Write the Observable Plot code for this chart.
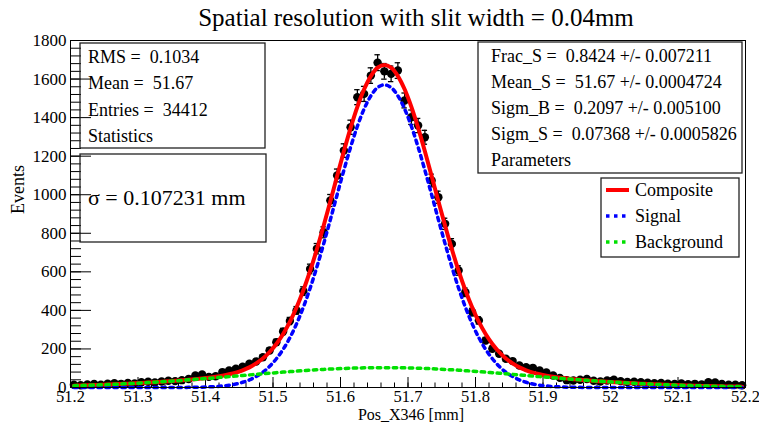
<!DOCTYPE html>
<html><head><meta charset="utf-8">
<script src="https://cdn.jsdelivr.net/npm/d3@7"></script>
<script src="https://cdn.jsdelivr.net/npm/@observablehq/plot@0.6"></script>
<style>body{margin:0;background:#fff;} svg{display:block}</style>
</head><body><div id="chart"></div>
<script>
const binCenters = [
51.205,51.215,51.225,51.235,51.245,51.255,51.265,51.275,51.285,51.295,
51.305,51.315,51.325,51.335,51.345,51.355,51.365,51.375,51.385,51.395,
51.405,51.415,51.425,51.435,51.445,51.455,51.465,51.475,51.485,51.495,
51.505,51.515,51.525,51.535,51.545,51.555,51.565,51.575,51.585,51.595,
51.605,51.615,51.625,51.635,51.645,51.655,51.665,51.675,51.685,51.695,
51.705,51.715,51.725,51.735,51.745,51.755,51.765,51.775,51.785,51.795,
51.805,51.815,51.825,51.835,51.845,51.855,51.865,51.875,51.885,51.895,
51.905,51.915,51.925,51.935,51.945,51.955,51.965,51.975,51.985,51.995,
52.005,52.015,52.025,52.035,52.045,52.055,52.065,52.075,52.085,52.095,
52.105,52.115,52.125,52.135,52.145,52.155,52.165,52.175,52.185,52.195];
const counts = [
14,12,16,18,15,20,22,19,24,21,
27,30,26,31,35,33,38,44,62,68,
55,58,80,88,97,108,123,135,157,192,
235,290,345,400,500,615,720,805,970,1100,
1229,1350,1506,1523,1618,1685,1640,1627,1644,1489,
1402,1359,1298,1074,987,849,745,607,494,391,
348,244,201,175,149,137,114,105,102,88,
78,62,50,38,36,40,44,35,31,36,
40,33,29,30,27,25,22,24,20,18,
21,17,19,16,28,26,18,14,15,12];
const signalCurve = [
0,0,0,0,0,0,0,0,0,0,
0,0,0,0,0,0,0.3,0.7,1.1,1.9,
3.1,5,7.8,12,18,27,39,57,79,110,
149,198,258,331,417,515,625,745,871,1000,
1127,1247,1355,1445,1513,1556,1570,1556,1513,1445,
1355,1247,1127,1000,871,745,625,515,417,331,
258,198,149,110,79,57,39,27,18,12,
7.8,5,3.1,1.9,1.1,0.7,0.3,0,0,0,
0,0,0,0,0,0,0,0,0,0,
0,0,0,0,0,0,0,0,0,0];
const backgroundCurve = [
9.3,10.3,11.4,12.6,13.9,15.2,16.7,18.3,19.9,21.7,
23.6,25.6,27.7,29.9,32.2,34.5,37.0,39.6,42.2,45.0,
47.8,50.6,53.5,56.4,59.4,62.4,65.4,68.3,71.3,74.2,
77.0,79.8,82.4,85.0,87.4,89.8,91.9,93.9,95.6,97.3,
98.8,100.1,101.1,102.0,102.5,102.9,103.0,102.9,102.5,102.0,
101.1,100.1,98.8,97.3,95.6,93.9,91.9,89.8,87.4,85.0,
82.4,79.8,77.0,74.2,71.3,68.3,65.4,62.4,59.4,56.4,
53.5,50.6,47.8,45.0,42.2,39.6,37.0,34.5,32.2,29.9,
27.7,25.6,23.6,21.7,19.9,18.3,16.7,15.2,13.9,12.6,
11.4,10.3,9.3,8.4,7.5,6.7,6.0,5.3,4.8,4.2];
const compositeCurve = [
9.3,10.3,11.4,12.6,13.9,15.2,16.7,18.3,19.9,21.7,
23.6,25.6,27.7,29.9,32.2,34.5,37.3,40.3,43.3,46.9,
50.9,55.6,61.3,68.4,77.4,89.4,104.4,125.3,150.3,184.2,
226,277.8,340.4,416,504.4,604.8,716.9,838.9,966.6,1097.3,
1225.8,1347.1,1456.1,1547,1615.5,1658.9,1673,1658.9,1615.5,1547,
1456.1,1347.1,1225.8,1097.3,966.6,838.9,716.9,604.8,504.4,416,
340.4,277.8,226,184.2,150.3,125.3,104.4,89.4,77.4,68.4,
61.3,55.6,50.9,46.9,43.3,40.3,37.3,34.5,32.2,29.9,
27.7,25.6,23.6,21.7,19.9,18.3,16.7,15.2,13.9,12.6,
11.4,10.3,9.3,8.4,7.5,6.7,6.0,5.3,4.8,4.2];
const xTickValues = [51.2,51.3,51.4,51.5,51.6,51.7,51.8,51.9,52.0,52.1,52.2];
const yTickValues = [0,200,400,600,800,1000,1200,1400,1600,1800];
const yMinorTicks = d3.range(0, 1801, 40);
const titleText = "Spatial resolution with slit width = 0.04mm";
const xTitle = "Pos_X346 [mm]";
const yTitle = "Events";
const statsLines = ["RMS =  0.1034", "Mean =  51.67", "Entries =  34412", "Statistics"];
const sigmaText = "σ = 0.107231 mm";
const paramLines = ["Frac_S =  0.8424 +/- 0.007211", "Mean_S =  51.67 +/- 0.0004724",
  "Sigm_B =  0.2097 +/- 0.005100", "Sigm_S =  0.07368 +/- 0.0005826", "Parameters"];
const legendNames = ["Composite", "Signal", "Background"];
const legendColors = ["#ff0000", "#0000ff", "#00e000"];

const serif = "'Liberation Serif','Times New Roman',Times,serif";
const hist = binCenters.map((x, i) => ({x, n: counts[i], e: Math.sqrt(counts[i])}));
const curves = binCenters.map((x, i) => ({x, s: signalCurve[i], b: backgroundCurve[i], c: compositeCurve[i]}));
const dash = "3.5,4.5";
const frameW = 759 - 70 - 14, frameH = 427 - 40 - 40;

const chart = Plot.plot({
  width: 759, height: 427,
  marginLeft: 70, marginRight: 14, marginTop: 40, marginBottom: 40,
  style: {fontFamily: serif, fontSize: "17px", background: "#fff", color: "#000"},
  x: {domain: [51.2, 52.2]},
  y: {domain: [0, 1800]},
  marks: [
    Plot.axisY({anchor: "right", ticks: yMinorTicks, tickSize: 10, dx: -frameW, fill: "none", label: null}),
    Plot.axisY({anchor: "right", ticks: yTickValues, tickSize: 20, dx: -frameW, fill: "none", label: null}),
    Plot.axisY({anchor: "left", ticks: yTickValues, tickSize: 0, tickPadding: 4, fontSize: 17, label: null, tickFormat: d3.format("d")}),
    Plot.axisX({anchor: "top", ticks: 50, tickSize: 5.5, dy: frameH, fill: "none", label: null}),
    Plot.axisX({anchor: "top", ticks: xTickValues, tickSize: 11, dy: frameH, fill: "none", label: null}),
    Plot.axisX({anchor: "bottom", ticks: xTickValues, tickSize: 0, tickPadding: 3, fontSize: 16.5, label: null, tickFormat: d3.format("~f")}),
    Plot.ruleX(hist, {x: "x", y1: d => d.n - d.e, y2: d => d.n + d.e, stroke: "black", strokeWidth: 1.3, clip: true}),
    Plot.ruleY(hist, {y: d => d.n + d.e, x1: d => d.x - 0.004, x2: d => d.x + 0.004, stroke: "black", strokeWidth: 1.3}),
    Plot.ruleY(hist, {y: d => d.n - d.e, x1: d => d.x - 0.004, x2: d => d.x + 0.004, stroke: "black", strokeWidth: 1.3, clip: true}),
    Plot.ruleY(hist, {y: "n", x1: d => d.x - 0.005, x2: d => d.x + 0.005, stroke: "black", strokeWidth: 1.3}),
    Plot.dot(hist, {x: "x", y: "n", r: 4.2, fill: "black"}),
    Plot.line(curves, {x: "x", y: "c", stroke: legendColors[0], strokeWidth: 4, curve: "catmull-rom"}),
    Plot.line(curves, {x: "x", y: "s", stroke: legendColors[1], strokeWidth: 3.5, strokeDasharray: dash, curve: "catmull-rom"}),
    Plot.line(curves, {x: "x", y: "b", stroke: legendColors[2], strokeWidth: 3.5, strokeDasharray: dash, curve: "catmull-rom"}),
    Plot.frame({stroke: "black", strokeWidth: 1}),
    Plot.text([xTitle], {frameAnchor: "bottom", dy: 32.5, dx: 3, text: d => d, fontSize: 16}),
    Plot.text([yTitle], {frameAnchor: "left", dx: -52, rotate: -90, text: d => d, fontSize: 18})
  ]
});
document.getElementById("chart").appendChild(chart);

const svg = d3.select(chart);
const g = svg.append("g").attr("font-family", serif).attr("fill", "black")
  .attr("text-anchor", "start").style("white-space", "pre");
g.append("text").attr("x", 416).attr("y", 26).attr("text-anchor", "middle").attr("font-size", 25).text(titleText);
function box(x, y, w, h) {
  g.append("rect").attr("x", x).attr("y", y).attr("width", w).attr("height", h)
    .attr("fill", "none").attr("stroke", "#222").attr("stroke-width", 1.3);
}
box(80, 43, 185, 105);
statsLines.forEach((t, i) => g.append("text").attr("x", 88).attr("y", 63 + i * 26.4).attr("font-size", 18).text(t));
box(80, 154, 186, 88);
g.append("text").attr("x", 88).attr("y", 205).attr("font-size", 22).text(sigmaText);
box(478, 42, 264, 131);
paramLines.forEach((t, i) => g.append("text").attr("x", 491).attr("y", 62 + i * 26).attr("font-size", 18).text(t));
box(601, 178, 138, 79);
legendNames.forEach((t, i) => {
  const yy = 190 + i * 26;
  g.append("line").attr("x1", 606).attr("x2", 629).attr("y1", yy).attr("y2", yy)
    .attr("stroke", legendColors[i]).attr("stroke-width", i === 0 ? 4 : 3.5)
    .attr("stroke-dasharray", i === 0 ? null : dash);
  g.append("text").attr("x", 635).attr("y", yy + 6).attr("font-size", 18).text(t);
});
</script></body></html>
